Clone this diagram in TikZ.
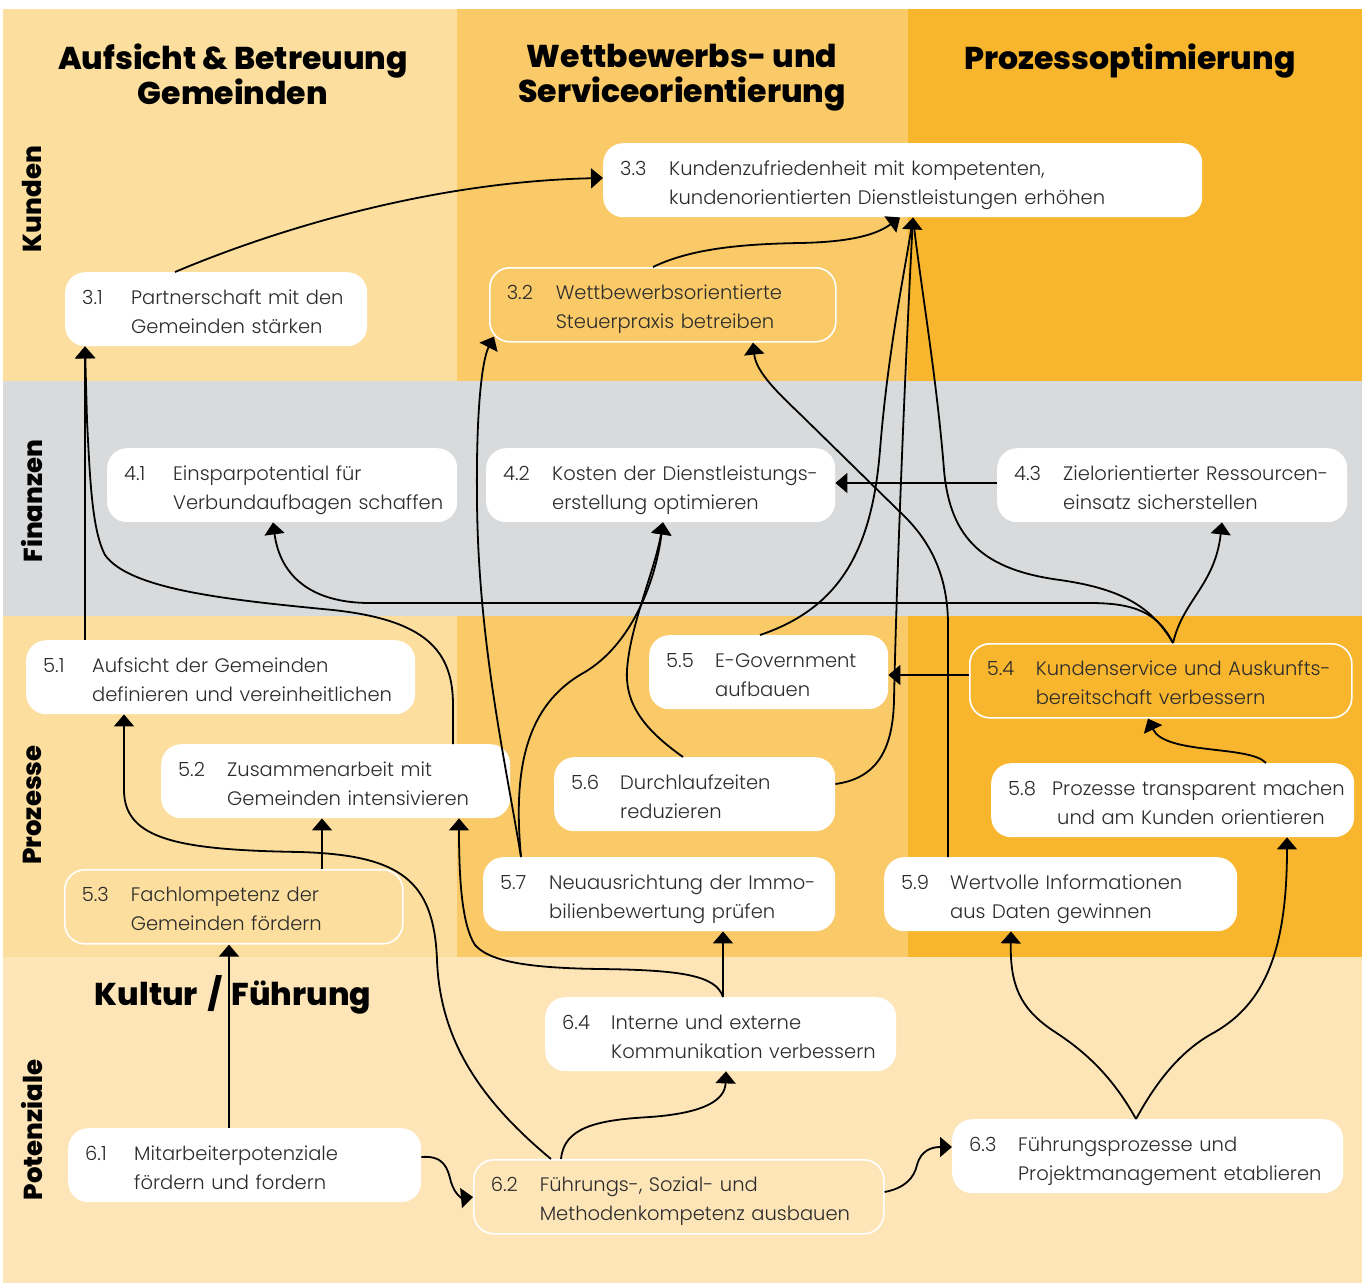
\documentclass[tikz,border=0pt]{standalone}
\usepackage{fontspec}
\IfFontExistsTF{Poppins Light}{\newfontfamily\lightfont{Poppins Light}}{\newfontfamily\lightfont{Poppins}}
\IfFontExistsTF{Poppins ExtraBold}{\newfontfamily\heavyfont{Poppins ExtraBold}}{\newfontfamily\heavyfont{Poppins}[UprightFont=*,BoldFont=*]}
\usepackage{tikz}
\usetikzlibrary{arrows.meta}

\definecolor{bgA}{HTML}{FCDE9E}
\definecolor{bgB}{HTML}{F9CA67}
\definecolor{bgC}{HTML}{F8B62F}
\definecolor{bgF}{HTML}{D9DADC}
\definecolor{bgP}{HTML}{FDE5B8}
\definecolor{txt}{HTML}{2B2B2B}

\newcommand{\bodyfont}{\lightfont\fontsize{19.5}{29}\selectfont}
\newcommand{\headfont}{\heavyfont\fontsize{31.5}{35}\selectfont}
\newcommand{\sidefont}{\heavyfont\fontsize{26}{30}\selectfont}
% number + two lines with hanging indent
\newcommand{\ziel}[4][49pt]{\begin{tabular}{@{}p{#1}@{}l@{}}\rule{0pt}{28pt}#2&#3\\&#4\end{tabular}}

\begin{document}
\begin{tikzpicture}
    [
    x=1pt, y=-1pt,
    >={Triangle[length=12pt,width=20pt]},
    zbox/.style={fill=white,rounded corners=20pt,anchor=north west,inner xsep=17pt,inner ysep=0pt,minimum height=74pt,text width=#1,align=left,text=txt,font=\bodyfont},
    hollow/.style={fill=none,draw=white,line width=1.6pt},
    pfeil/.style={->,line width=1.8pt},
    strich/.style={line width=1.8pt,shorten >=9pt},
    colhead/.style={font=\headfont,align=center,anchor=north,inner sep=0pt},
    rowhead/.style={font=\sidefont,rotate=90,inner sep=0pt}
    ]
    \useasboundingbox (0,0) rectangle (1368,1283);
    % background
    \fill[bgA] (3,9) rectangle (457,381);
    \fill[bgB] (457,9) rectangle (908,381);
    \fill[bgC] (908,9) rectangle (1362,381);
    \fill[bgF] (3,381) rectangle (1362,616);
    \fill[bgA] (3,616) rectangle (457,957);
    \fill[bgB] (457,616) rectangle (908,957);
    \fill[bgC] (908,616) rectangle (1362,957);
    \fill[bgP] (3,957) rectangle (1362,1283);

    \node[colhead] (h1) at (233,44) {Aufsicht \& Betreuung\\Gemeinden};
    \node[colhead] (h2) at (682,44) {Wettbewerbs- und\\Serviceorientierung};
    \node[colhead] (h3) at (1130,44) {Prozessoptimierung};
    \node[font=\headfont,anchor=base] (h4) at (233,1005) {Kultur\hspace{10pt}/\hspace{10pt}Führung};
    \node[rowhead] (kunden) at (32,199) {Kunden};
    \node[rowhead] (finanzen) at (32,501) {Finanzen};
    \node[rowhead] (prozesse) at (32,805) {Prozesse};
    \node[rowhead] (potenziale) at (32,1130) {Potenziale};

    \node[zbox=565pt] (z33) at (603,143) {\ziel{3.3}{Kundenzufriedenheit mit kompetenten,}{kundenorientierten Dienstleistungen erhöhen}};
    \node[zbox=268pt] (z31) at (65,272) {\ziel{3.1}{Partnerschaft mit den}{Gemeinden stärken}};
    \node[zbox=312pt,hollow] (z32) at (489,267) {\ziel{3.2}{Wettbewerbsorientierte}{Steuerpraxis betreiben}};
    \node[zbox=316pt] (z41) at (107,448) {\ziel{4.1}{Einsparpotential für}{Verbundaufbagen schaffen}};
    \node[zbox=315pt] (z42) at (486,448) {\ziel{4.2}{Kosten der Dienstleistungs-}{erstellung optimieren}};
    \node[zbox=316pt] (z43) at (997,448) {\ziel{4.3}{Zielorientierter Ressourcen-}{einsatz sicherstellen}};
    \node[zbox=355pt] (z51) at (26,640) {\ziel{5.1}{Aufsicht der Gemeinden}{definieren und vereinheitlichen}};
    \node[zbox=315pt] (z52) at (161,744) {\ziel{5.2}{Zusammenarbeit mit}{Gemeinden intensivieren}};
    \node[zbox=304pt,hollow] (z53) at (64,869) {\ziel{5.3}{Fachlompetenz der}{Gemeinden fördern}};
    \node[zbox=348pt,hollow] (z54) at (969,643) {\ziel{5.4}{Kundenservice und Auskunfts-}{bereitschaft verbessern}};
    \node[zbox=205pt] (z55) at (649,635) {\ziel{5.5}{E-Government}{aufbauen}};
    \node[zbox=247pt] (z56) at (554,757) {\ziel{5.6}{Durchlaufzeiten}{reduzieren}};
    \node[zbox=318pt] (z57) at (483,857) {\ziel{5.7}{Neuausrichtung der Immo-}{bilienbewertung prüfen}};
    \node[zbox=329pt] (z58) at (991,763) {\ziel[44pt]{5.8}{Prozesse transparent machen}{\hspace{5pt}und am Kunden orientieren}};
    \node[zbox=319pt] (z59) at (884,857) {\ziel{5.9}{Wertvolle Informationen}{aus Daten gewinnen}};
    \node[zbox=319pt] (z61) at (68,1128) {\ziel{6.1}{Mitarbeiterpotenziale}{fördern und fordern}};
    \node[zbox=376pt,hollow] (z62) at (473,1159) {\ziel{6.2}{Führungs-, Sozial- und}{Methodenkompetenz ausbauen}};
    \node[zbox=357pt] (z63) at (952,1119) {\ziel{6.3}{Führungsprozesse und}{Projektmanagement etablieren}};
    \node[zbox=317pt] (z64) at (545,997) {\ziel{6.4}{Interne und externe}{Kommunikation verbessern}};

    % Kunden
    \draw[pfeil] ([xshift=110pt]z31.north west) .. controls (260,236) and (420,182) .. ([yshift=-35pt]z33.north west);
    \draw[pfeil] ([xshift=164pt]z32.north west) .. controls (690,249) and (740,244) .. (800,243) .. controls (850,242) and (876,235) .. ([xshift=297pt]z33.south west);
    \draw[pfeil] ([yshift=-27pt]z56.north east) .. controls (880,778) and (893,745) .. (894,700) .. controls (897,560) and (906,350) .. ([xshift=310pt]z33.south west);
    \draw[strich] ([xshift=111pt]z55.north west) .. controls (840,608) and (872,550) .. (880,450) .. controls (888,350) and (905,270) .. ([xshift=310pt]z33.south west);
    \draw[strich] ([xshift=204pt]z54.north west) .. controls (1150,603) and (1115,588) .. (1060,580) .. controls (985,570) and (950,540) .. (944,470) .. controls (937,380) and (920,280) .. ([xshift=310pt]z33.south west);
    \draw[pfeil] ([xshift=59pt]z51.north west) -- ([xshift=20pt]z31.south west);
    \draw[pfeil] ([xshift=292pt]z52.north west) -- (453,705) .. controls (453,650) and (425,620) .. (333,610) .. controls (230,600) and (130,590) .. (105,555) .. controls (92,530) and (90,480) .. (87,420) -- ([xshift=20pt]z31.south west);
    \draw[pfeil] ([xshift=38pt]z57.north west) .. controls (505,760) and (478,640) .. (477,500) .. controls (476,410) and (482,360) .. ([xshift=5pt,yshift=6pt]z32.south west);
    \draw[pfeil] ([xshift=64pt]z59.north west) -- (948,625) .. controls (948,575) and (930,540) .. (900,512) -- (800,414) .. controls (778,393) and (756,372) .. ([xshift=264pt]z32.south west);

    % Finanzen
    \draw[pfeil] ([yshift=-35pt]z43.north west) -- ([yshift=-35pt]z42.north east);
    \draw[pfeil] ([xshift=38pt]z57.north west) .. controls (513,770) and (525,705) .. (585,672) .. controls (630,645) and (655,585) .. ([xshift=177pt]z42.south west);
    \draw[pfeil] ([xshift=129pt]z56.north west) .. controls (645,730) and (625,705) .. (627,670) .. controls (630,625) and (655,570) .. ([xshift=177pt]z42.south west);
    \draw[pfeil] ([xshift=204pt]z54.north west) .. controls (1158,613) and (1135,603) .. (1090,603) -- (370,603) .. controls (310,603) and (280,575) .. ([xshift=166pt]z41.south west);
    \draw[pfeil] ([xshift=204pt]z54.north west) .. controls (1183,600) and (1215,585) .. ([xshift=225pt]z43.south west);

    % Prozesse
    \draw[pfeil] ([yshift=-32pt]z54.north west) -- ([yshift=-40pt]z55.north east);
    \draw[pfeil] ([xshift=275pt]z58.north west) .. controls (1250,745) and (1165,755) .. ([xshift=179pt]z54.south west);
    \draw[pfeil] ([xshift=258pt]z53.north west) -- ([xshift=161pt]z52.south west);
    \draw[pfeil] ([xshift=178pt]z64.north west) -- ([xshift=240pt]z57.south west);
    \draw[pfeil] ([xshift=178pt]z64.north west) .. controls (716,975) and (680,970) .. (600,969) .. controls (530,968) and (490,962) .. (475,945) .. controls (462,925) and (459,880) .. ([xshift=298pt]z52.south west);

    % Potenziale
    \draw[pfeil] ([xshift=161pt]z61.north west) -- ([xshift=165pt]z53.south west);
    \draw[pfeil] ([yshift=-29pt]z61.north east) .. controls (445,1155) and (448,1170) .. (451,1182) .. controls (455,1195) and (462,1198) .. ([yshift=-38pt]z62.north west);
    \draw[pfeil] ([yshift=-33pt]z62.north east) .. controls (905,1188) and (914,1178) .. (917,1165) .. controls (921,1150) and (932,1147) .. ([yshift=-28pt]z63.north west);
    \draw[pfeil] ([xshift=88pt]z62.north west) .. controls (564,1128) and (595,1120) .. (650,1117) .. controls (705,1113) and (725,1100) .. ([xshift=181pt]z64.south west);
    \draw[pfeil] ([xshift=78pt]z62.north west) .. controls (480,1100) and (440,1040) .. (437,960) .. controls (434,880) and (400,855) .. (300,852) .. controls (180,850) and (124,840) .. (124,790) -- ([xshift=98pt]z51.south west);
    \draw[pfeil] ([xshift=184pt]z63.north west) .. controls (1110,1072) and (1080,1048) .. (1052,1030) .. controls (1020,1008) and (1010,985) .. ([xshift=127pt]z59.south west);
    \draw[pfeil] ([xshift=184pt]z63.north west) .. controls (1160,1075) and (1185,1048) .. (1215,1032) .. controls (1265,1003) and (1287,950) .. ([xshift=296pt]z58.south west);
\end{tikzpicture}
\end{document}
